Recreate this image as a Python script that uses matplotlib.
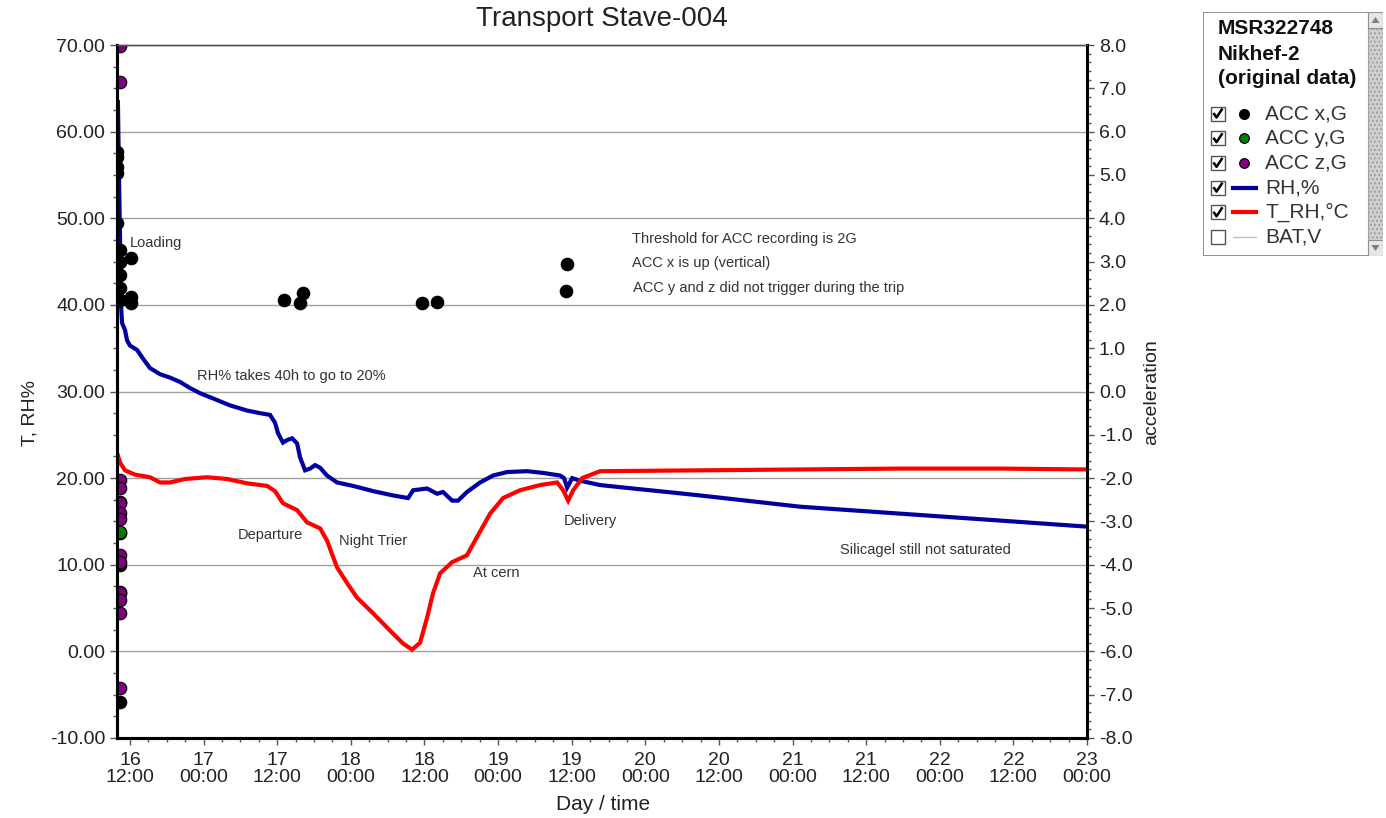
import numpy as np
import matplotlib.pyplot as plt
from matplotlib.patches import Rectangle, Polygon
from matplotlib.ticker import MultipleLocator, FormatStrFormatter, FuncFormatter

plt.rcParams['font.family'] = ['Liberation Sans', 'DejaVu Sans']

# time axis is fractional day of month (16.5 = day 16, 12:00)
rh_time = [16.418, 16.425, 16.432, 16.439, 16.446, 16.466, 16.480, 16.500, 16.548, 16.588,
           16.636, 16.704, 16.772, 16.840, 16.908, 16.976, 17.064, 17.179, 17.295, 17.383,
           17.451, 17.485, 17.505, 17.539, 17.567, 17.601, 17.635, 17.655, 17.689, 17.723,
           17.757, 17.791, 17.838, 17.906, 18.015, 18.151, 18.287, 18.389, 18.423, 18.518,
           18.586, 18.626, 18.688, 18.728, 18.789, 18.878, 18.966, 19.061, 19.197, 19.306,
           19.421, 19.448, 19.469, 19.503, 19.557, 19.693, 19.917, 20.148, 20.372, 21.052,
           21.731, 22.410, 23.000]
rh_pct = [63.4, 55.0, 48.0, 40.0, 37.9, 37.1, 35.9, 35.3, 34.8, 33.8,
          32.7, 32.0, 31.6, 31.1, 30.4, 29.8, 29.2, 28.4, 27.8, 27.5,
          27.3, 26.4, 25.2, 24.1, 24.4, 24.6, 24.0, 22.4, 20.9, 21.1,
          21.5, 21.2, 20.3, 19.5, 19.1, 18.5, 18.0, 17.7, 18.6, 18.8,
          18.2, 18.4, 17.4, 17.4, 18.4, 19.5, 20.3, 20.7, 20.8, 20.6,
          20.3, 20.0, 18.9, 20.0, 19.7, 19.2, 18.8, 18.4, 18.0, 16.7,
          15.9, 15.1, 14.4]

t_time = [16.418, 16.432, 16.466, 16.534, 16.636, 16.704, 16.772, 16.874, 17.023, 17.159,
          17.295, 17.431, 17.485, 17.539, 17.635, 17.702, 17.791, 17.838, 17.906, 17.974,
          18.042, 18.151, 18.266, 18.355, 18.416, 18.470, 18.518, 18.558, 18.606, 18.688,
          18.789, 18.857, 18.946, 19.034, 19.149, 19.285, 19.401, 19.442, 19.476, 19.510,
          19.571, 19.693, 20.372, 21.052, 21.731, 22.410, 23.000]
t_degc = [22.6, 21.8, 20.9, 20.4, 20.1, 19.5, 19.5, 19.9, 20.1, 19.9,
          19.4, 19.1, 18.5, 17.1, 16.3, 14.9, 14.2, 12.8, 9.7, 7.9,
          6.2, 4.4, 2.4, 0.9, 0.2, 1.0, 3.9, 6.7, 9.0, 10.3,
          11.1, 13.2, 15.9, 17.7, 18.6, 19.2, 19.5, 18.6, 17.4, 18.6,
          20.0, 20.8, 20.9, 21.0, 21.1, 21.1, 21.0]

# accelerometer events (G)
acc_x_time = [16.414, 16.414, 16.414, 16.414, 16.414, 16.432, 16.432, 16.432, 16.432, 16.507,
              16.507, 16.507, 16.432, 16.432, 16.432, 16.432, 16.432, 17.546, 17.675, 17.655,
              18.484, 18.586, 19.469, 19.462]
acc_x_g = [5.53, 5.41, 5.18, 5.04, 3.89, 3.27, 2.99, 2.69, 2.39, 3.08,
           2.18, 2.04, 2.11, -2.55, -3.27, -4.01, -7.17, 2.11, 2.27, 2.04,
           2.04, 2.07, 2.94, 2.32]
acc_y_time = [16.432, 16.432]
acc_y_g = [-3.24, -4.63]
acc_z_time = [16.432] * 13
acc_z_g = [7.98, 7.15, -2.04, -2.23, -2.57, -2.81, -2.95, -3.78, -3.94, -4.65, -4.81, -5.11, -6.85]

legend_title = ['MSR322748', 'Nikhef-2', '(original data)']
legend_labels = ['ACC x,G', 'ACC y,G', 'ACC z,G', 'RH,%', 'T_RH,\u00b0C', 'BAT,V']
legend_checked = [True, True, True, True, True, False]

W, H = 1386, 818
fig = plt.figure(figsize=(W / 100, H / 100), dpi=100)
ax = fig.add_axes([117 / W, 80 / H, 970 / W, 693 / H])
ax2 = ax.twinx()

ax.set_xlim(16.4117, 23.0)
ax.set_ylim(-10, 70)
ax2.set_ylim(-8, 8)

ax.yaxis.grid(True, color='#a0a0a0', lw=1)
ax.set_axisbelow(True)

for a in (ax, ax2):
    for side in ('left', 'bottom', 'right'):
        a.spines[side].set_color('black')
        a.spines[side].set_linewidth(2.2)
    a.spines['top'].set_color('#555555')
    a.spines['top'].set_linewidth(1)
ax.spines['right'].set_visible(False)

ax.yaxis.set_major_locator(MultipleLocator(10))
ax.yaxis.set_minor_locator(MultipleLocator(2.5))
ax.yaxis.set_major_formatter(FormatStrFormatter('%.2f'))
ax2.yaxis.set_major_locator(MultipleLocator(1))
ax2.yaxis.set_minor_locator(MultipleLocator(0.2))
ax2.yaxis.set_major_formatter(FormatStrFormatter('%.1f'))


def day_label(v, pos):
    d = int(np.floor(v + 1e-6))
    h = int(round((v - d) * 24))
    return f'{d}\n{h:02d}:00'


ax.xaxis.set_major_locator(MultipleLocator(0.5))
ax.xaxis.set_minor_locator(MultipleLocator(0.125))
ax.xaxis.set_major_formatter(FuncFormatter(day_label))
ax2.xaxis.set_visible(False)

ax.tick_params(axis='both', which='major', direction='out', length=5, width=1,
               color='#555555', labelsize=14, labelcolor='#222222')
ax.tick_params(axis='both', which='minor', direction='out', length=3, width=1, color='#555555')
ax.tick_params(axis='x', which='major', pad=5)
ax2.tick_params(axis='y', which='major', direction='out', length=5, width=1,
                color='#555555', labelsize=14, labelcolor='#222222')
ax2.tick_params(axis='y', which='minor', direction='out', length=3, width=1, color='#555555')
for lab in ax.get_xticklabels():
    lab.set_linespacing(1.0)

# RH and temperature
ax.plot(rh_time, rh_pct, color='#0000a0', lw=3, solid_joinstyle='miter')
ax.plot(t_time, t_degc, color='#ff0000', lw=3, solid_joinstyle='miter')

# accelerometer events on the right axis
ax2.plot(acc_x_time, acc_x_g, 'o', ls='', ms=9, mfc='black', mec='black', mew=0.8)
ax2.plot(acc_y_time, acc_y_g, 'o', ls='', ms=9, mfc='#008000', mec='black', mew=0.8)
ax2.plot(acc_z_time, acc_z_g, 'o', ls='', ms=9, mfc='#800080', mec='black', mew=0.8)

note = dict(fontsize=10.5, color='#333333', ha='left', va='center')
ax.text(16.5, 47.1, 'Loading', **note)
ax.text(19.910, 47.6, 'Threshold for ACC recording is 2G', **note)
ax.text(19.910, 44.8, 'ACC x is up (vertical)', **note)
ax.text(19.917, 42.0, 'ACC y and z did not trigger during the trip', **note)
ax.text(16.955, 31.8, 'RH% takes 40h to go to 20%', **note)
ax.text(17.234, 13.4, 'Departure', **note)
ax.text(17.920, 12.7, 'Night Trier', **note)
ax.text(18.830, 9.1, 'At cern', **note)
ax.text(19.448, 15.0, 'Delivery', **note)
ax.text(21.323, 11.7, 'Silicagel still not saturated', **note)

fig.text(602 / W, 1 - 19 / H, 'Transport Stave-004', fontsize=20, color='#222222',
         ha='center', va='center')
fig.text(30 / W, 1 - 413 / H, 'T, RH%', fontsize=14, color='#222222',
         rotation=90, ha='center', va='center')
fig.text(1152 / W, 1 - 392 / H, 'acceleration', fontsize=14, color='#222222',
         rotation=90, ha='center', va='center')
fig.text(603 / W, 1 - 805 / H, 'Day / time', fontsize=15, color='#222222',
         ha='center', va='center')

# series selector box
lax = fig.add_axes([1203 / W, 1 - 256 / H, 180 / W, 244 / H])
lax.set_xlim(0, 180)
lax.set_ylim(244, 0)
lax.axis('off')
lax.add_patch(Rectangle((0, 0), 180, 244, fc='white', ec='#808080', lw=1.2))
# scrollbar
lax.add_patch(Rectangle((165, 0), 15, 244, fc='#d0d0d0', ec='#a0a0a0', lw=0.8, hatch='....'))
for y0, up in ((0, True), (228, False)):
    lax.add_patch(Rectangle((165, y0), 15, 16, fc='#e6e6e6', ec='#909090', lw=0.8))
    if up:
        tri = [(168.5, y0 + 11), (176.5, y0 + 11), (172.5, y0 + 5)]
    else:
        tri = [(168.5, y0 + 5), (176.5, y0 + 5), (172.5, y0 + 11)]
    lax.add_patch(Polygon(tri, closed=True, fc='#808080', ec='none'))

for i, line in enumerate(legend_title):
    lax.text(15, 17 + 25 * i, line, fontsize=15, fontweight='bold', color='#111111',
             ha='left', va='center')

for i, (label, checked) in enumerate(zip(legend_labels, legend_checked)):
    y = 101.5 + 24.7 * i
    lax.add_patch(Rectangle((8, y - 7), 14, 14, fc='white', ec='#555555', lw=1))
    if checked:
        lax.plot([10.5, 13.5, 19.5], [y - 0.5, y + 4, y - 5], color='black', lw=1.8,
                 solid_capstyle='butt')
    if i == 0:
        lax.plot([41], [y], 'o', ms=7, mfc='black', mec='black')
    elif i == 1:
        lax.plot([41], [y], 'o', ms=7, mfc='#008000', mec='black', mew=0.8)
    elif i == 2:
        lax.plot([41], [y], 'o', ms=7, mfc='#800080', mec='black', mew=0.8)
    elif i == 3:
        lax.plot([30, 53], [y, y], color='#0000a0', lw=3)
    elif i == 4:
        lax.plot([30, 53], [y, y], color='#ff0000', lw=3)
    else:
        lax.plot([30, 53], [y, y], color='#c0c0c0', lw=1)
    lax.text(62, y, label, fontsize=15, color='#333333', ha='left', va='center')

fig.savefig('out.png', dpi=100)
